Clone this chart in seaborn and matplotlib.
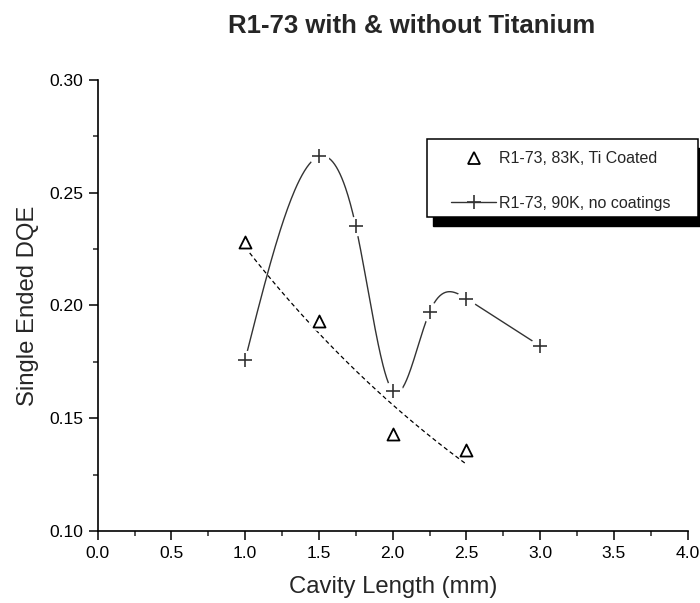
import numpy as np
import pandas as pd
import matplotlib
matplotlib.use("Agg")
import matplotlib.pyplot as plt
import seaborn as sns
from matplotlib.patches import Rectangle
from matplotlib.lines import Line2D
from matplotlib.ticker import MultipleLocator, FormatStrFormatter

# ---------------- data ----------------
cavity_ti = [1.0, 1.5, 2.0, 2.5]
dqe_ti = [0.228, 0.193, 0.143, 0.136]
cavity_nc = [1.0, 1.5, 1.75, 2.0, 2.25, 2.5, 3.0]
dqe_nc = [0.176, 0.266, 0.235, 0.162, 0.197, 0.203, 0.182]
label_ti = "R1-73, 83K, Ti Coated"
label_nc = "R1-73, 90K, no coatings"
title = "R1-73 with & without Titanium"
xlabel = "Cavity Length (mm)"
ylabel = "Single Ended DQE"
xticks = [0.0, 0.5, 1.0, 1.5, 2.0, 2.5, 3.0, 3.5, 4.0]
yticks = [0.10, 0.15, 0.20, 0.25, 0.30]


def natural_spline(x, y, n=300):
    x = np.asarray(x, float)
    y = np.asarray(y, float)
    k = len(x)
    h = np.diff(x)
    A = np.zeros((k, k))
    r = np.zeros(k)
    A[0, 0] = A[-1, -1] = 1.0
    for i in range(1, k - 1):
        A[i, i - 1] = h[i - 1]
        A[i, i] = 2 * (h[i - 1] + h[i])
        A[i, i + 1] = h[i]
        r[i] = 6 * ((y[i + 1] - y[i]) / h[i] - (y[i] - y[i - 1]) / h[i - 1])
    M = np.linalg.solve(A, r)
    xs, ys = [], []
    for i in range(k - 1):
        t = np.linspace(x[i], x[i + 1], n // (k - 1) + 2)
        hi = h[i]
        s = (M[i] * (x[i + 1] - t) ** 3 / (6 * hi) + M[i + 1] * (t - x[i]) ** 3 / (6 * hi)
             + (y[i] / hi - M[i] * hi / 6) * (x[i + 1] - t)
             + (y[i + 1] / hi - M[i + 1] * hi / 6) * (t - x[i]))
        xs.append(t)
        ys.append(s)
    return np.concatenate(xs), np.concatenate(ys)


sns.set_style("ticks")
plt.rcParams["font.family"] = ["Liberation Sans", "DejaVu Sans"]

fig = plt.figure(figsize=(7.0, 6.03), dpi=100)
ax = fig.add_axes([97.7 / 700, 72 / 603, 590 / 700, 451.3 / 603])

# exponential decay fit for the Ti coated series
b, a = np.polyfit(cavity_ti, np.log(dqe_ti), 1)
fx = np.linspace(min(cavity_ti), max(cavity_ti), 200)
fit_df = pd.DataFrame({"x": fx, "y": np.exp(a + b * fx)})
sns.lineplot(data=fit_df, x="x", y="y", ax=ax, color="black", lw=0.9,
             linestyle=(0, (3.4, 2.4)), estimator=None, sort=False, zorder=2)

# spline line for the uncoated series (spline through first points, straight to last)
sx, sy = natural_spline(cavity_nc[:-1], dqe_nc[:-1])
sx = np.append(sx, cavity_nc[-1])
sy = np.append(sy, dqe_nc[-1])
sp_df = pd.DataFrame({"x": sx, "y": sy})
sns.lineplot(data=sp_df, x="x", y="y", ax=ax, color="#333333", lw=1.0,
             estimator=None, sort=False, zorder=2)

# white gaps around markers
sns.scatterplot(x=cavity_nc, y=dqe_nc, ax=ax, marker="o", s=200, color="white",
                linewidth=0, zorder=3)
sns.scatterplot(x=cavity_ti, y=dqe_ti, ax=ax, marker="o", s=200, color="white",
                linewidth=0, zorder=3)

# markers
sns.scatterplot(x=cavity_nc, y=dqe_nc, ax=ax, marker="+", s=110, color="#333333",
                linewidth=1.2, zorder=4)
sns.scatterplot(x=cavity_ti, y=dqe_ti, ax=ax, marker="^", s=75, facecolor="white",
                edgecolor="black", linewidth=1.3, zorder=4)

ax.set_xlim(0, 4.0)
ax.set_ylim(0.10, 0.30)
ax.set_xticks(xticks)
ax.set_yticks(yticks)
ax.xaxis.set_major_formatter(FormatStrFormatter("%.1f"))
ax.yaxis.set_major_formatter(FormatStrFormatter("%.2f"))
ax.xaxis.set_minor_locator(MultipleLocator(0.25))
ax.yaxis.set_minor_locator(MultipleLocator(0.025))
ax.tick_params(which="major", direction="out", length=6.5, width=1.1, labelsize=12.6,
               pad=4, colors="black")
ax.tick_params(which="minor", direction="out", length=3.6, width=1.1)
for s in ["top", "right"]:
    ax.spines[s].set_visible(False)
for s in ["left", "bottom"]:
    ax.spines[s].set_linewidth(1.2)
    ax.spines[s].set_color("black")

ax.set_xlabel(xlabel, fontsize=17.2, labelpad=11)
ax.set_ylabel(ylabel, fontsize=17.2, labelpad=7)
fig.text(411.5 / 700, 1 - 26 / 603, title, fontsize=18.5, fontweight="bold",
         ha="center", va="center")

# legend box with shadow
bx0, bx1, by0, by1 = 427, 698, 139, 217
fig.patches.append(Rectangle(((bx0 + 6) / 700, 1 - (by1 + 9) / 603), (bx1 - bx0) / 700,
                             (by1 - by0) / 603, transform=fig.transFigure,
                             facecolor="black", edgecolor="black", zorder=10))
fig.patches.append(Rectangle((bx0 / 700, 1 - by1 / 603), (bx1 - bx0) / 700,
                             (by1 - by0) / 603, transform=fig.transFigure,
                             facecolor="white", edgecolor="black", lw=1.1, zorder=11))
handles = [
    Line2D([], [], linestyle="none", marker="^", markersize=8.5, markerfacecolor="white",
           markeredgecolor="black", markeredgewidth=1.3),
    Line2D([], [], color="#333333", lw=1.0, marker="+", markersize=10,
           markeredgewidth=1.2),
]
leg = fig.legend(handles, [label_ti, label_nc], loc="center",
                 bbox_to_anchor=((bx0 + bx1) / 2 / 700 - 1.5 / 700,
                                 1 - ((by0 + by1) / 2 + 3) / 603),
                 frameon=False, fontsize=11.5, handlelength=2.8, handletextpad=0.2,
                 labelspacing=1.85)
leg.set_zorder(12)

fig.savefig("out.png", dpi=100)
